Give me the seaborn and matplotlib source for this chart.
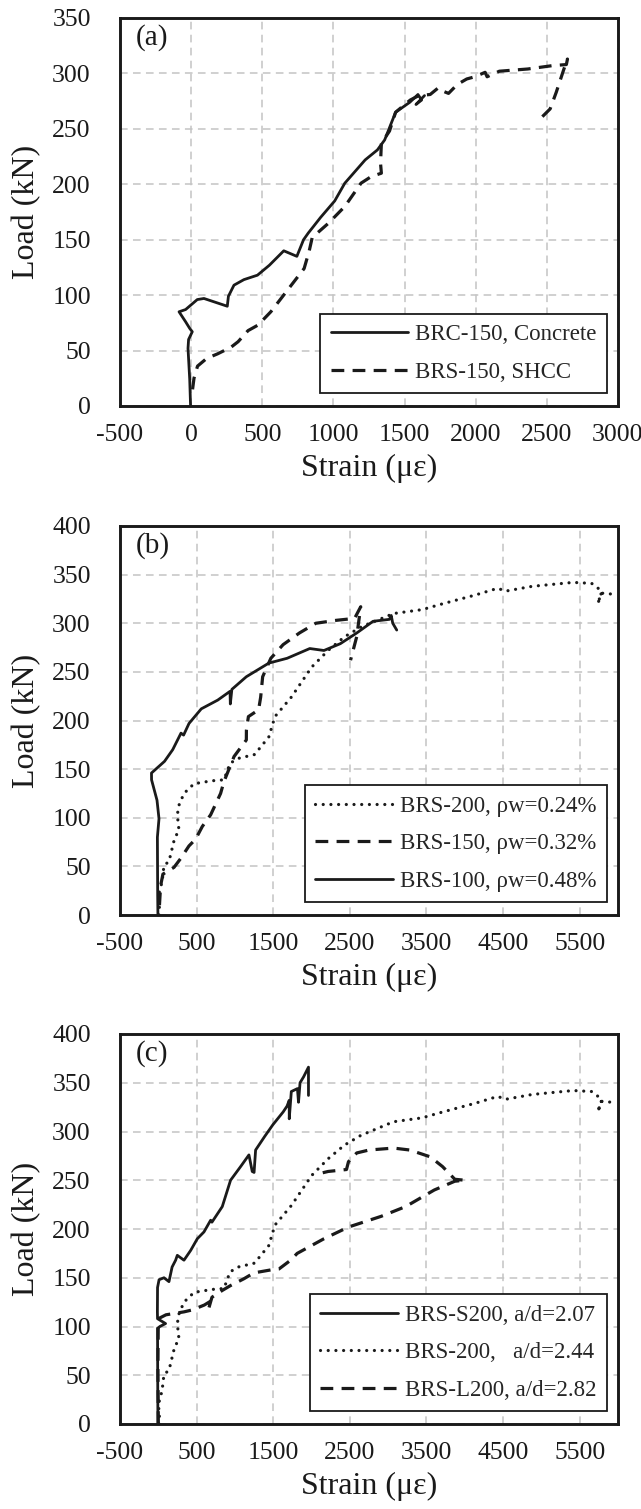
import numpy as np
import pandas as pd
import seaborn as sns
import matplotlib.pyplot as plt

# ---- panel (a): concrete vs SHCC ----
a_brc_x = [-4, -10, -22, -18, 8, -10, -39, -85, -39, 43, 90, 254, 262, 301, 371, 442, 466, 550, 651, 743,
           790, 823, 860, 909, 1009, 1080, 1223, 1309, 1360, 1437, 1537, 1594, 1620, 1580, 1640]
a_brc_y = [0, 24, 52, 60, 67, 70, 76, 85, 87, 96, 97, 90, 99, 109, 114, 117, 118, 127, 140, 135,
           150, 156, 162, 170, 185, 201, 222, 231, 240, 265, 274, 281, 276, 272, 280]
a_brs_x = [10, 20, 45, 110, 185, 280, 330, 400, 470, 560, 680, 794, 830, 851, 966, 1080, 1194, 1266, 1337,
           1331, 1337, 1394, 1437, 1540, 1600, 1680, 1737, 1770, 1809, 1870, 1937, 1994, 2066, 2080, 2166,
           2366, 2537, 2637, 2645, 2620, 2566, 2523, 2437]
a_brs_y = [15, 25, 36, 43, 47, 53, 58, 68, 73, 85, 105, 124, 140, 152, 165, 180, 201, 207, 210,
           219, 237, 248, 265, 276, 280, 281, 287, 284, 282, 290, 295, 297, 301, 297, 302,
           304, 307, 308, 313, 304, 283, 268, 257]

# ---- panel (b): stirrup ratio ----
b_200_x = [10, 15, 0, 30, 52, 74, 139, 213, 270, 248, 270, 335, 466, 700, 857, 936, 1042, 1256, 1442, 1522,
           1736, 2003, 2216, 2429, 2643, 3070, 3443, 3710, 4137, 4431, 4530, 4882, 5415, 5656, 5790, 5737,
           5780, 5920]
b_200_y = [0, 10, 20, 28, 36, 51, 55, 79, 87, 103, 113, 125, 135, 138, 139, 156, 161, 165, 183, 204,
           224, 255, 272, 286, 296, 310, 314, 320, 329, 336, 333, 338, 342, 341, 333, 320,
           331, 330]
b_150_x = [15, 30, 60, 120, 205, 291, 400, 487, 574, 683, 813, 856, 989, 1149, 1150, 1176, 1309, 1336,
           1362, 1469, 1629, 1842, 2056, 2322, 2562, 2642, 2589, 2509]
b_150_y = [10, 30, 42, 45, 49, 58, 71, 78, 91, 103, 125, 137, 163, 180, 190, 204, 211, 224,
           245, 264, 278, 290, 300, 303, 305, 317, 286, 262]
b_100_x = [-5, -8, -10, -12, 9, -17, -88, -89, 81, 188, 296, 330, 401, 561, 776, 936, 940, 960, 1149, 1442,
           1682, 1977, 2162, 2376, 2590, 2803, 3016, 3040, 3060, 3112]
b_100_y = [0, 20, 50, 80, 99, 118, 139, 146, 158, 170, 187, 185, 197, 212, 221, 230, 217, 232, 245, 259,
           264, 274, 272, 279, 290, 302, 304, 308, 300, 293]

# ---- panel (c): shear span ----
c_s200_x = [-5, -8, -10, 20, 95, -10, -12, -10, 10, 74, 139, 180, 226, 248, 335, 422, 509, 596, 683, 700,
            835, 943, 1074, 1183, 1226, 1250, 1270, 1389, 1496, 1629, 1680, 1709, 1709, 1736, 1816, 1830,
            1850, 1896, 1960, 1960]
c_s200_y = [0, 50, 98, 100, 103, 108, 115, 140, 148, 150, 146, 161, 168, 173, 168, 178, 190, 197, 209, 207,
            223, 250, 264, 276, 259, 258, 281, 295, 307, 320, 326, 332, 313, 341, 344, 330,
            350, 356, 366, 337]
c_200_x = b_200_x
c_200_y = b_200_y
c_l200_x = [0, -5, 0, 100, 335, 443, 600, 683, 660, 700, 835, 943, 1118, 1248, 1466, 1575, 1727, 1813,
            2162, 2482, 2909, 3229, 3602, 3870, 4003, 3870, 3710, 3550, 3283, 3070, 2750, 2590, 2482,
            2456, 2216, 2109]
c_l200_y = [0, 60, 108, 112, 115, 117, 122, 126, 119, 130, 137, 142, 149, 155, 158, 159, 168, 175,
            190, 202, 213, 223, 240, 249, 250, 251, 264, 274, 281, 283, 281, 278, 269,
            261, 259, 257]

sns.set_theme(style="white")
plt.rcParams['font.family'] = ['Liberation Serif', 'DejaVu Serif']
plt.rcParams['axes.unicode_minus'] = False

ink = '#1a1a1a'
solid = dict(linestyle='-', lw=2.0)
dashed = dict(linestyle=(0, (4, 2.6)), lw=2.3)
dotted = dict(linestyle=(0, (0.01, 2.4)), lw=2.3, dash_capstyle='round')

fig = plt.figure(figsize=(6.41, 15.09), dpi=100)
left, width = 120 / 641, 498 / 641
ax_a = fig.add_axes([left, 1 - 406 / 1509, width, 388 / 1509])
ax_b = fig.add_axes([left, 1 - 915 / 1509, width, 389 / 1509])
ax_c = fig.add_axes([left, 1 - 1424 / 1509, width, 390 / 1509])


def draw(ax, x, y, label, style):
    df = pd.DataFrame({'strain': x, 'load': y})
    sns.lineplot(data=df, x='strain', y='load', sort=False, estimator=None,
                 color=ink, label=label, ax=ax, **style)


draw(ax_a, a_brc_x, a_brc_y, 'BRC-150, Concrete', solid)
draw(ax_a, a_brs_x, a_brs_y, 'BRS-150, SHCC', dashed)

draw(ax_b, b_200_x, b_200_y, 'BRS-200, ρw=0.24%', dotted)
draw(ax_b, b_150_x, b_150_y, 'BRS-150, ρw=0.32%', dashed)
draw(ax_b, b_100_x, b_100_y, 'BRS-100, ρw=0.48%', solid)

draw(ax_c, c_s200_x, c_s200_y, 'BRS-S200, a/d=2.07', solid)
draw(ax_c, c_200_x, c_200_y, 'BRS-200,   a/d=2.44', dotted)
draw(ax_c, c_l200_x, c_l200_y, 'BRS-L200, a/d=2.82', dashed)

panels = [(ax_a, '(a)', (-500, 3000), np.arange(-500, 3001, 500), 350),
          (ax_b, '(b)', (-500, 6000), np.arange(-500, 6000, 1000), 400),
          (ax_c, '(c)', (-500, 6000), np.arange(-500, 6000, 1000), 400)]

for ax, tag, xlim, xt, ytop in panels:
    ax.set_xlim(*xlim)
    ax.set_ylim(0, ytop)
    ax.set_xticks(xt)
    ax.set_yticks(np.arange(0, ytop + 1, 50))
    ax.grid(True, color='#c4c4c4', linestyle=(0, (5, 3.5)), lw=1.1)
    ax.set_axisbelow(True)
    ax.tick_params(axis='x', length=0, pad=13, labelsize=18.5, labelcolor=ink)
    ax.tick_params(axis='y', length=0, pad=21, labelsize=18.5, labelcolor=ink)
    for sp in ax.spines.values():
        sp.set_visible(True)
        sp.set_color(ink)
        sp.set_linewidth(2.1)
    ax.set_xlabel('Strain (με)', fontsize=23, color=ink, labelpad=6)
    ax.set_ylabel('Load (kN)', fontsize=23, color=ink, labelpad=8)
    ax.text(0.032, 0.985, tag, transform=ax.transAxes, ha='left', va='top',
            fontsize=21, color=ink)
    leg = ax.legend(loc='lower right', bbox_to_anchor=(0.978, 0.033), fontsize=16.5,
                    frameon=True, fancybox=False, framealpha=1, edgecolor=ink,
                    handlelength=3.4, handletextpad=0.3, labelspacing=0.72,
                    borderpad=0.45, borderaxespad=0)
    leg.get_frame().set_linewidth(1.3)

fig.savefig('out.png', dpi=100)
